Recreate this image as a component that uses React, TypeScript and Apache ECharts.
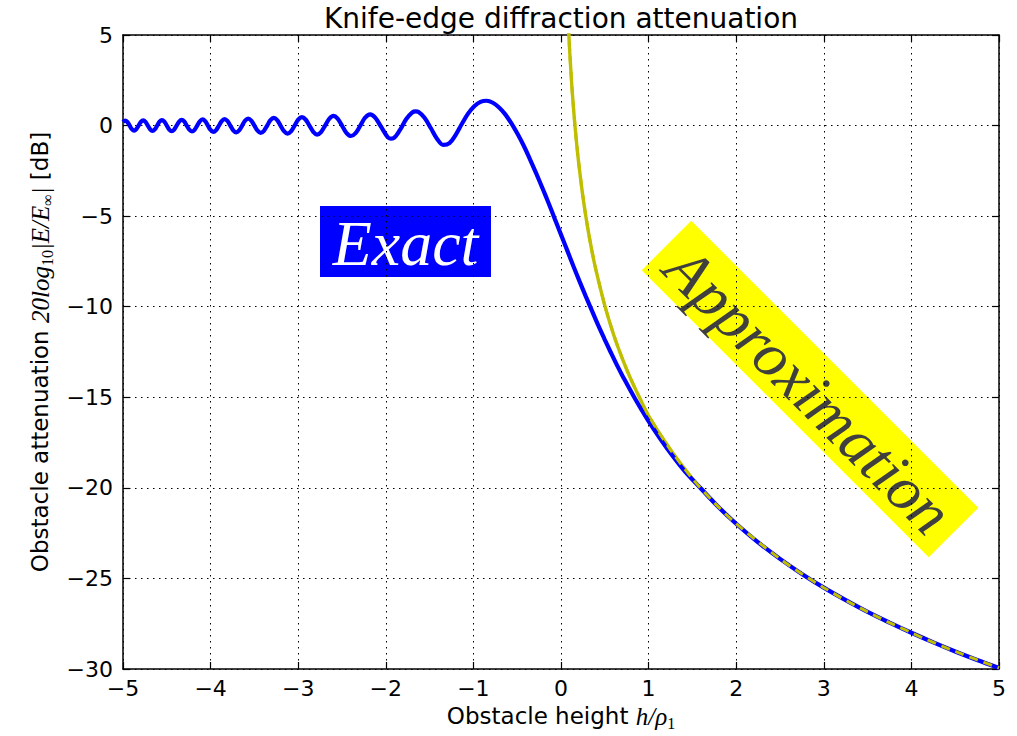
import React, { useEffect, useRef } from "react";
import * as echarts from "echarts";

const titleText = "Knife-edge diffraction attenuation";
const xTickMin = -5;
const xTickMax = 5;
const yTickMin = -30;
const yTickMax = 5;

// Exact knife-edge attenuation [h/rho1, dB]
const exactPoints: [number, number][] = [
  [-5.0, 0.195], [-4.975, 0.278], [-4.95, 0.197], [-4.924, 0], [-4.899, -0.199], [-4.873, -0.284], [-4.848, -0.202], [-4.822, 0],
  [-4.796, 0.204], [-4.77, 0.29], [-4.743, 0.206], [-4.717, 0], [-4.69, -0.208], [-4.664, -0.296], [-4.637, -0.211], [-4.61, 0],
  [-4.583, 0.213], [-4.555, 0.303], [-4.528, 0.216], [-4.5, 0], [-4.472, -0.218], [-4.444, -0.311], [-4.416, -0.221], [-4.388, 0],
  [-4.359, 0.224], [-4.33, 0.319], [-4.301, 0.227], [-4.272, 0], [-4.243, -0.23], [-4.213, -0.328], [-4.183, -0.234], [-4.153, 0],
  [-4.123, 0.237], [-4.093, 0.338], [-4.062, 0.241], [-4.031, 0], [-4.0, -0.244], [-3.969, -0.348], [-3.937, -0.248], [-3.905, 0],
  [-3.873, 0.252], [-3.841, 0.36], [-3.808, 0.257], [-3.775, 0], [-3.742, -0.261], [-3.708, -0.373], [-3.674, -0.266], [-3.64, 0],
  [-3.606, 0.271], [-3.571, 0.387], [-3.536, 0.276], [-3.5, 0], [-3.464, -0.282], [-3.428, -0.403], [-3.391, -0.288], [-3.354, 0],
  [-3.317, 0.295], [-3.279, 0.422], [-3.24, 0.302], [-3.202, 0], [-3.162, -0.309], [-3.123, -0.443], [-3.082, -0.317], [-3.041, 0],
  [-3.0, 0.326], [-2.958, 0.467], [-2.916, 0.335], [-2.872, 0], [-2.828, -0.345], [-2.784, -0.496], [-2.739, -0.357], [-2.693, 0],
  [-2.646, 0.369], [-2.598, 0.532], [-2.55, 0.383], [-2.5, 0], [-2.45, -0.399], [-2.398, -0.576], [-2.345, -0.417], [-2.291, 0],
  [-2.236, 0.437], [-2.179, 0.62], [-2.121, 0.44], [-2.051, -0.09], [-1.98, -0.63], [-1.945, -0.72], [-1.909, -0.69], [-1.838, -0.24],
  [-1.768, 0.35], [-1.697, 0.73], [-1.66, 0.78], [-1.626, 0.75], [-1.556, 0.42], [-1.485, -0.15], [-1.414, -0.74], [-1.344, -1.07],
  [-1.273, -0.97], [-1.202, -0.51], [-1.131, 0.1], [-1.061, 0.66], [-0.99, 1.07], [-0.919, 1.31], [-0.849, 1.37], [-0.778, 1.26],
  [-0.707, 1.0], [-0.636, 0.62], [-0.566, 0.12], [-0.495, -0.47], [-0.424, -1.13], [-0.354, -1.86], [-0.283, -2.64], [-0.212, -3.45],
  [-0.141, -4.29], [-0.071, -5.15], [0, -6.02], [0.071, -6.89], [0.141, -7.75], [0.212, -8.6], [0.283, -9.43], [0.354, -10.23],
  [0.424, -11.02], [0.495, -11.77], [0.566, -12.5], [0.636, -13.2], [0.707, -13.86], [0.849, -15.11], [0.99, -16.25], [1.131, -17.28],
  [1.273, -18.23], [1.414, -19.09], [1.6, -20.05], [1.8, -21.07], [2.0, -21.98], [2.25, -23.01], [2.5, -23.92], [2.75, -24.75],
  [3.0, -25.51], [3.25, -26.2], [3.5, -26.85], [3.75, -27.44], [4.0, -28.0], [4.25, -28.53], [4.5, -29.03], [4.75, -29.5], [5.0, -29.94],
];

// Approximation [h/rho1, dB]
const approxPoints: [number, number][] = [
  [0.085, 5.45], [0.1, 4.04], [0.125, 2.1], [0.15, 0.52], [0.175, -0.82], [0.2, -1.98], [0.25, -3.92], [0.3, -5.51],
  [0.35, -6.85], [0.4, -8.0], [0.5, -9.94], [0.6, -11.53], [0.7, -12.86], [0.8, -14.03], [0.9, -15.05], [1.0, -16.02],
  [1.25, -17.9], [1.5, -19.49], [1.75, -20.82], [2.0, -21.98], [2.5, -23.92], [3.0, -25.51], [3.5, -26.85], [4.0, -28.0],
  [4.5, -29.03], [5.0, -29.94],
];

const exactLabel = "Exact";
const approxLabel = "Approximation";

export default function App() {
  const ref = useRef<HTMLDivElement>(null);
  useEffect(() => {
    document.body.style.margin = "0";
    const chart = echarts.init(ref.current!, null, { renderer: "svg" });
    const fmt = (v: number) => (v < 0 ? "\u2212" + Math.abs(v) : String(v));
    const tickFont = { fontFamily: "DejaVu Sans", fontSize: 22, color: "#000" };
    const axisLine = { show: true, onZero: false, lineStyle: { color: "#000", width: 1.5 } };
    const axisTick = { show: true, inside: true, length: 7, lineStyle: { color: "#000", width: 1.2 } };
    const grid = { show: true, lineStyle: { type: [1.5, 4.5], color: "#000", width: 1 } };
    const sans = "DejaVu Sans";
    const serif = "Liberation Serif";
    const labelRich = {
      a: { fontFamily: sans, fontSize: 23, lineHeight: 30, fill: "#000" },
      m: { fontFamily: serif, fontStyle: "italic", fontSize: 25, lineHeight: 30, fill: "#000" },
      s: { fontFamily: serif, fontSize: 16, lineHeight: 16, verticalAlign: "bottom", fill: "#000" },
    };
    chart.setOption({
      animation: false,
      backgroundColor: "#fff",
      grid: { left: 123, top: 35, width: 876, height: 634 },
      xAxis: [
        {
          type: "value", min: xTickMin, max: xTickMax, interval: 1,
          axisLine, axisTick,
          axisLabel: { ...tickFont, formatter: fmt, margin: 8 },
          splitLine: grid,
        },
        {
          type: "value", position: "top", min: xTickMin, max: xTickMax, interval: 1,
          axisLine, axisTick, axisLabel: { show: false }, splitLine: { show: false },
        },
      ],
      yAxis: [
        {
          type: "value", min: yTickMin, max: yTickMax, interval: 5,
          axisLine, axisTick,
          axisLabel: { ...tickFont, formatter: fmt, margin: 10 },
          splitLine: grid,
        },
        {
          type: "value", position: "right", min: yTickMin, max: yTickMax, interval: 5,
          axisLine, axisTick, axisLabel: { show: false }, splitLine: { show: false },
        },
      ],
      series: [
        {
          type: "line", data: approxPoints, showSymbol: false, smooth: 0.3,
          lineStyle: { color: "#bfbf00", width: 3.4 }, z: 2, silent: true,
        },
        {
          type: "line", data: exactPoints, showSymbol: false, smooth: 0.35,
          lineStyle: { color: "#0000ff", width: 4.2 }, z: 3, silent: true,
        },
        {
          type: "line", data: approxPoints, showSymbol: false, smooth: 0.3,
          lineStyle: { color: "#bfbf00", width: 3, type: [9, 6] }, z: 4, silent: true,
        },
      ],
      graphic: [
        {
          type: "text", x: 561, y: 18,
          style: { text: titleText, align: "center", verticalAlign: "middle", font: `28px "${sans}"`, fill: "#000" },
        },
        {
          type: "text", x: 40, y: 352, rotation: Math.PI / 2,
          style: {
            text: "{a|Obstacle attenuation }{m|20log}{s|10}{m||E/E}{s|\u221e}{m||}{a| [dB]}",
            align: "center", verticalAlign: "middle",
            rich: labelRich,
          },
        },
        {
          type: "text", x: 561, y: 716,
          style: {
            text: "{a|Obstacle height }{m|h/\u03c1}{s|1}",
            align: "center", verticalAlign: "middle",
            rich: labelRich,
          },
        },
        {
          type: "group", z: 10,
          children: [
            { type: "rect", shape: { x: 320, y: 206, width: 171, height: 71 }, style: { fill: "#0000ff" } },
            {
              type: "text", x: 405.5, y: 243,
              style: { text: exactLabel, align: "center", verticalAlign: "middle", font: `italic 64px "${serif}"`, fill: "#fff" },
            },
          ],
        },
        {
          type: "group", x: 810, y: 389, rotation: -Math.PI / 4, z: 10,
          children: [
            { type: "rect", shape: { x: -203, y: -35, width: 406, height: 70 }, style: { fill: "#ffff00" } },
            {
              type: "text", x: 0, y: 2,
              style: { text: approxLabel, align: "center", verticalAlign: "middle", font: `italic 63px "${serif}"`, fill: "#3f3f3f" },
            },
          ],
        },
      ],
    });
    return () => chart.dispose();
  }, []);
  return <div ref={ref} style={{ width: 1017, height: 736 }} />;
}
